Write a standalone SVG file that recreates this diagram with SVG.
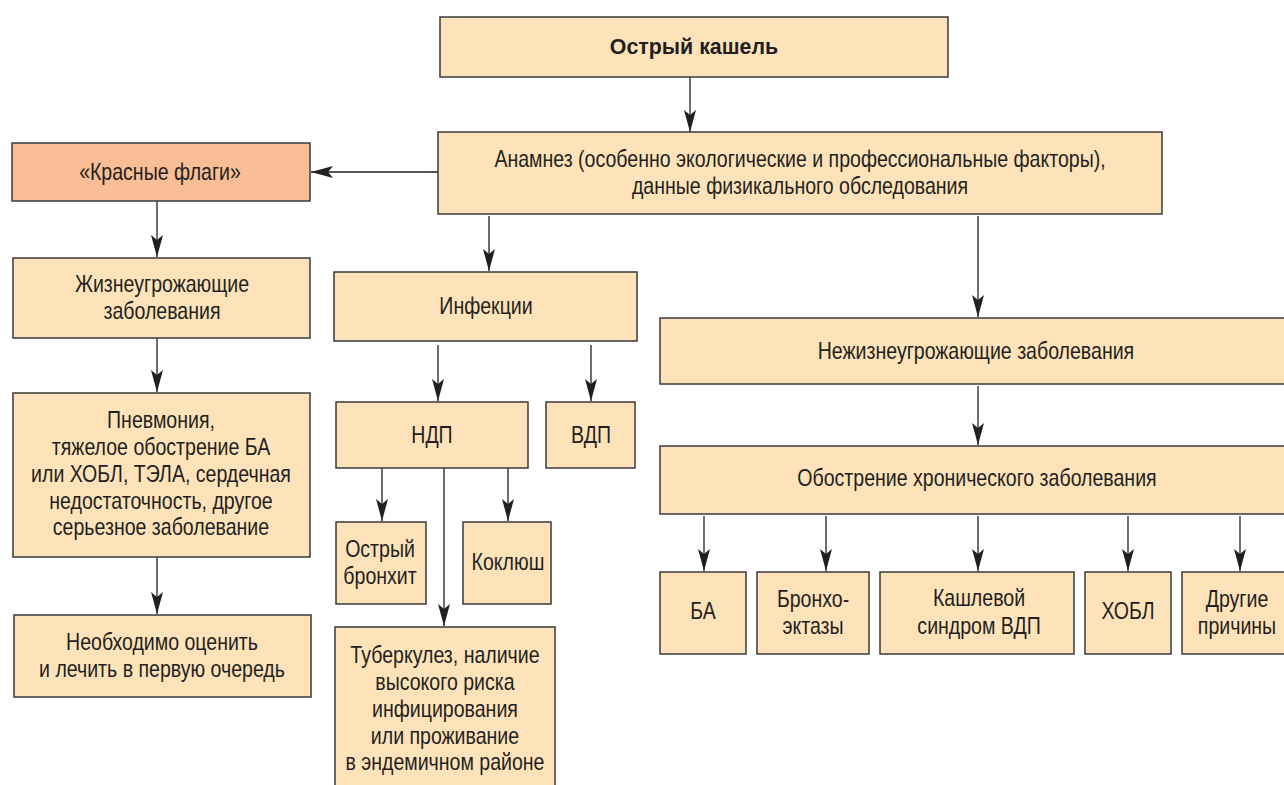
<svg xmlns="http://www.w3.org/2000/svg" width="1284" height="785" viewBox="0 0 1284 785">
<style>
.b{fill:#FEE3BA;stroke:#3a3a3a;stroke-width:1.5}
.r{fill:#F9BE95;stroke:#3a3a3a;stroke-width:1.5}
text{font-family:"Liberation Sans",Arial,sans-serif;font-size:23px;fill:#231F20;text-anchor:middle}
.bold{font-weight:bold}
.c{stroke:#231F20;stroke-width:1.3;fill:none;marker-end:url(#ah)}
</style>
<defs>
<marker id="ah" markerUnits="userSpaceOnUse" markerWidth="24" markerHeight="14" refX="22" refY="7" orient="auto">
<path d="M0,1 L22,7 L0,13 L5,7 Z" fill="#231F20"/>
</marker>
</defs>
<rect width="1284" height="785" fill="#fff"/>
<g id="connectors">
<line class="c" x1="690" y1="77" x2="690" y2="132"/>
<line class="c" x1="438" y1="172" x2="311" y2="172"/>
<line class="c" x1="157" y1="201" x2="157" y2="257"/>
<line class="c" x1="157" y1="338" x2="157" y2="392"/>
<line class="c" x1="157" y1="557" x2="157" y2="614"/>
<line class="c" x1="489" y1="216" x2="489" y2="271"/>
<line class="c" x1="978" y1="216" x2="978" y2="317"/>
<line class="c" x1="438" y1="345" x2="438" y2="401"/>
<line class="c" x1="591" y1="345" x2="591" y2="401"/>
<line class="c" x1="382" y1="468" x2="382" y2="521"/>
<line class="c" x1="508" y1="468" x2="508" y2="521"/>
<line class="c" x1="444" y1="468" x2="444" y2="626"/>
<line class="c" x1="978" y1="386" x2="978" y2="445"/>
<line class="c" x1="704" y1="516" x2="704" y2="571"/>
<line class="c" x1="826" y1="516" x2="826" y2="571"/>
<line class="c" x1="978" y1="516" x2="978" y2="571"/>
<line class="c" x1="1128" y1="516" x2="1128" y2="571"/>
<line class="c" x1="1240" y1="516" x2="1240" y2="571"/>
</g>
<g id="n-cough"><rect class="b" x="440" y="17" width="508" height="60"/><text class="bold" transform="scale(0.93 1)" x="746.2" y="54">Острый кашель</text></g>
<g id="n-anamnez"><rect class="b" x="438" y="132" width="724" height="82"/><g transform="scale(0.85 1)"><text x="941.2" y="167">Анамнез (особенно экологические и профессиональные факторы),</text><text x="941.2" y="194">данные физикального обследования</text></g></g>
<g id="n-redflags"><rect class="r" x="12" y="143" width="298" height="58"/><text transform="scale(0.85 1)" x="188.2" y="180">«Красные флаги»</text></g>
<g id="n-life"><rect class="b" x="13" y="258" width="297" height="80"/><g transform="scale(0.85 1)"><text x="190.6" y="292">Жизнеугрожающие</text><text x="190.6" y="319">заболевания</text></g></g>
<g id="n-pneum"><rect class="b" x="13" y="393" width="297" height="164"/><g transform="scale(0.85 1)"><text x="189.4" y="428">Пневмония,</text><text x="189.4" y="455">тяжелое обострение БА</text><text x="189.4" y="482">или ХОБЛ, ТЭЛА, сердечная</text><text x="189.4" y="509">недостаточность, другое</text><text x="189.4" y="535">серьезное заболевание</text></g></g>
<g id="n-urgent"><rect class="b" x="14" y="615" width="297" height="82"/><g transform="scale(0.85 1)"><text x="190.6" y="650">Необходимо оценить</text><text x="190.6" y="677">и лечить в первую очередь</text></g></g>
<g id="n-infect"><rect class="b" x="334" y="272" width="303" height="69"/><text transform="scale(0.85 1)" x="571.8" y="314">Инфекции</text></g>
<g id="n-ndp"><rect class="b" x="336" y="402" width="192" height="66"/><text transform="scale(0.85 1)" x="508.2" y="443">НДП</text></g>
<g id="n-vdp"><rect class="b" x="546" y="402" width="89" height="66"/><text transform="scale(0.85 1)" x="695.3" y="443">ВДП</text></g>
<g id="n-bronch"><rect class="b" x="336" y="522" width="90" height="82"/><g transform="scale(0.85 1)"><text x="447.1" y="557">Острый</text><text x="447.1" y="584">бронхит</text></g></g>
<g id="n-pert"><rect class="b" x="463" y="522" width="88" height="82"/><text transform="scale(0.85 1)" x="597.6" y="570">Коклюш</text></g>
<g id="n-tb"><rect class="b" x="335" y="627" width="220" height="170"/><g transform="scale(0.85 1)"><text x="523.5" y="663">Туберкулез, наличие</text><text x="523.5" y="690">высокого риска</text><text x="523.5" y="717">инфицирования</text><text x="523.5" y="744">или проживание</text><text x="523.5" y="770">в эндемичном районе</text></g></g>
<g id="n-nonlife"><rect class="b" x="660" y="318" width="630" height="66"/><text transform="scale(0.85 1)" x="1148.2" y="359">Нежизнеугрожающие заболевания</text></g>
<g id="n-exac"><rect class="b" x="660" y="446" width="630" height="68"/><text transform="scale(0.85 1)" x="1149.4" y="486">Обострение хронического заболевания</text></g>
<g id="n-ba"><rect class="b" x="660" y="572" width="86" height="82"/><text transform="scale(0.85 1)" x="827.1" y="619">БА</text></g>
<g id="n-bronchiect"><rect class="b" x="757" y="572" width="112" height="82"/><g transform="scale(0.85 1)"><text x="956.5" y="607">Бронхо-</text><text x="956.5" y="634">эктазы</text></g></g>
<g id="n-cough-vdp"><rect class="b" x="880" y="572" width="194" height="82"/><g transform="scale(0.85 1)"><text x="1151.8" y="606">Кашлевой</text><text x="1151.8" y="634">синдром ВДП</text></g></g>
<g id="n-copd"><rect class="b" x="1085" y="572" width="86" height="82"/><text transform="scale(0.85 1)" x="1327.1" y="619">ХОБЛ</text></g>
<g id="n-other"><rect class="b" x="1182" y="572" width="110" height="82"/><g transform="scale(0.85 1)"><text x="1455.3" y="607">Другие</text><text x="1455.3" y="634">причины</text></g></g>
</svg>
